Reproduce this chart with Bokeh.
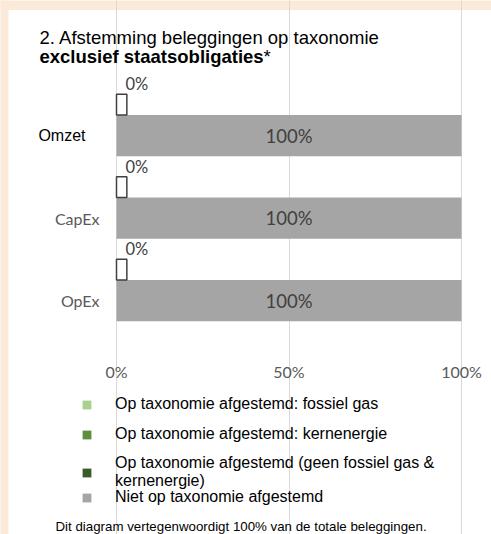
from bokeh.plotting import figure
from bokeh.models import (Range1d, FixedTicker, PrintfTickFormatter, ColumnDataSource,
                          LabelSet, Label, Legend, LegendItem, BoxAnnotation, LinearAxis)
from bokeh.core.properties import value
from bokeh.embed import file_html
from bokeh.resources import INLINE

# ---- data ----
categories = ["Omzet", "CapEx", "OpEx"]
fossil_gas = [0, 0, 0]
nuclear = [0, 0, 0]
aligned_other = [0, 0, 0]
not_aligned = [100, 100, 100]
x_ticks = [0, 50, 100]

legend_labels = [
    "Op taxonomie afgestemd: fossiel gas",
    "Op taxonomie afgestemd: kernenergie",
    "Op taxonomie afgestemd (geen fossiel gas &\nkernenergie)",
    "Niet op taxonomie afgestemd",
]
title_line1 = "2. Afstemming beleggingen op taxonomie"
title_line2 = "exclusief staatsobligaties"
title_star = "*"
footnote = "Dit diagram vertegenwoordigt 100% van de totale beleggingen."

# ---- derived ----
n = len(categories)
ypos = [n - 1 - i for i in range(n)]
aligned_total = [a + b + c for a, b, c in zip(fossil_gas, nuclear, aligned_other)]
MIN_VISIBLE = 3  # minimal drawn width (in %) so a 0% bar stays visible

src = ColumnDataSource(dict(
    cat=categories,
    y=ypos,
    y_small=[v + 0.375 for v in ypos],
    y_top=[v + 0.5 for v in ypos],
    fossil_r=fossil_gas,
    nuclear_l=fossil_gas,
    nuclear_r=[a + b for a, b in zip(fossil_gas, nuclear)],
    other_l=[a + b for a, b in zip(fossil_gas, nuclear)],
    other_r=aligned_total,
    aligned=aligned_total,
    aligned_vis=[max(v, MIN_VISIBLE) for v in aligned_total],
    not_aligned=not_aligned,
    mid=[v / 2 for v in not_aligned],
    not_lbl=[f"{v}%" for v in not_aligned],
    al_lbl=[f"{v}%" for v in aligned_total],
))

CHART_FONT = "Lato"
TEXT_FONT = "Liberation Sans"
PEACH = "#fbe9da"

W, H = 491, 534
# layout: chart area spans px 116..461 horizontally (0..100 %), category pitch 82.5 px
PX_PER_PCT = 3.45
UNIT = 82.5
X0_PX, Y0_PX = 116, 300          # pixel of x=0 and of the lowest category centre
x_start = -X0_PX / PX_PER_PCT
x_end = (W - X0_PX) / PX_PER_PCT
y_start = -(H - Y0_PX) / UNIT
y_end = Y0_PX / UNIT
chart_bottom = -(343 - Y0_PX) / UNIT
chart_top = (Y0_PX - 87) / UNIT
card_left = (8 - X0_PX) / PX_PER_PCT
card_top = (Y0_PX - 9.5) / UNIT

p = figure(width=W, height=H, x_range=Range1d(x_start, x_end),
           y_range=Range1d(y_start, y_end), output_backend="svg",
           toolbar_location=None, min_border=0)
p.outline_line_color = None
p.background_fill_color = "white"
p.border_fill_color = "white"

# peach page edges around the white card (top and left)
p.add_layout(BoxAnnotation(left=x_start - 20, right=x_end + 20, bottom=card_top, top=y_end + 2,
                           fill_color=PEACH, fill_alpha=1, line_color=None, level="image"))
p.add_layout(BoxAnnotation(left=x_start - 20, right=card_left, bottom=y_start - 2, top=y_end + 2,
                           fill_color=PEACH, fill_alpha=1, line_color=None, level="image"))

p.ygrid.visible = False
p.xgrid.ticker = FixedTicker(ticks=x_ticks)
p.xgrid.grid_line_color = "#d9d9d9"
p.xgrid.grid_line_width = 1
p.xgrid.bounds = (chart_bottom, chart_top)

xa = p.xaxis[0]
xa.fixed_location = chart_bottom
xa.ticker = FixedTicker(ticks=x_ticks)
xa.formatter = PrintfTickFormatter(format="%d%%")
xa.axis_line_color = None
xa.major_tick_line_color = None
xa.minor_tick_line_color = None
xa.major_tick_out = 0
xa.major_tick_in = 0
xa.major_label_standoff = 18
xa.major_label_text_font = CHART_FONT
xa.major_label_text_font_size = "16px"
xa.major_label_text_color = "#595959"

def style_yaxis(ax, ticks, font, color, standoff):
    ax.fixed_location = 0
    ax.ticker = FixedTicker(ticks=ticks)
    ax.major_label_overrides = {y: c for y, c in zip(ypos, categories) if y in ticks}
    ax.axis_line_color = None
    ax.major_tick_line_color = None
    ax.minor_tick_line_color = None
    ax.major_tick_out = 0
    ax.major_tick_in = 0
    ax.major_label_standoff = standoff
    ax.major_label_text_font = font
    ax.major_label_text_font_size = "16px"
    ax.major_label_text_color = color

# CapEx / OpEx labels (chart font, grey); Omzet label (text font, black) as in the source
style_yaxis(p.yaxis[0], ypos[1:], CHART_FONT, "#595959", 17)
ya2 = LinearAxis()
p.add_layout(ya2, "left")
style_yaxis(ya2, ypos[:1], TEXT_FONT, "black", 31)

# main (not aligned) bars
r_not = p.hbar(y="y", left=0, right="not_aligned", height=0.5, source=src,
               fill_color="#a5a5a5", line_color=None)
# aligned series (stacked, all 0)
r_fossil = p.hbar(y="y_small", left=0, right="fossil_r", height=0.25, source=src,
                  fill_color="#a9d08e", line_color=None)
r_nuclear = p.hbar(y="y_small", left="nuclear_l", right="nuclear_r", height=0.25, source=src,
                   fill_color="#5e8f3c", line_color=None)
r_other = p.hbar(y="y_small", left="other_l", right="other_r", height=0.25, source=src,
                 fill_color="#3b5a2a", line_color=None)
# outline marker showing the (0%) aligned total
p.hbar(y="y_small", left=0, right="aligned_vis", height=0.25, source=src,
       fill_color="white", line_color="#404040", line_width=1.5)

p.add_layout(LabelSet(x="mid", y="y", text="not_lbl", source=src,
                      text_align="center", text_baseline="middle",
                      text_font=value(CHART_FONT), text_font_size=value("18.5px"),
                      text_color="#404040"))
p.add_layout(LabelSet(x="aligned", y="y_top", text="al_lbl", source=src,
                      x_offset=9, y_offset=0, text_align="left", text_baseline="bottom",
                      text_font=value(CHART_FONT), text_font_size=value("16.5px"),
                      text_color="#404040"))

def make_legend(items, loc):
    lg = Legend(items=items, location=loc)
    lg.border_line_color = None
    lg.background_fill_alpha = 0
    lg.padding = 0
    lg.margin = 0
    lg.spacing = 10
    lg.label_height = 20
    lg.glyph_height = 11
    lg.glyph_width = 11
    lg.label_standoff = 23
    lg.label_text_font = TEXT_FONT
    lg.label_text_font_size = "16px"
    lg.label_text_color = "black"
    lg.label_text_line_height = 1.15
    return lg

legA = make_legend([
    LegendItem(label=legend_labels[0], renderers=[r_fossil]),
    LegendItem(label=legend_labels[1], renderers=[r_nuclear]),
    LegendItem(label=legend_labels[2], renderers=[r_other]),
], (81, H - 490))
legB = make_legend([LegendItem(label=legend_labels[3], renderers=[r_not])], (81, H - 507))
p.add_layout(legA)
p.add_layout(legB)

def lbl(text, x, y, size, style="normal"):
    return Label(x=x, y=H - y, x_units="screen", y_units="screen", text=text,
                 text_font=TEXT_FONT, text_font_size=size, text_font_style=style,
                 text_color="black", text_baseline="alphabetic", text_align="left")

p.add_layout(lbl(title_line1, 39, 37, "18.5px"))
p.add_layout(lbl(title_line2, 39, 56, "18.5px", "bold"))
p.add_layout(lbl(title_star, 263, 56, "18.5px"))
p.add_layout(lbl(footnote, 55, 526, "13.3px"))

open("out.html", "w").write(file_html(p, INLINE))
